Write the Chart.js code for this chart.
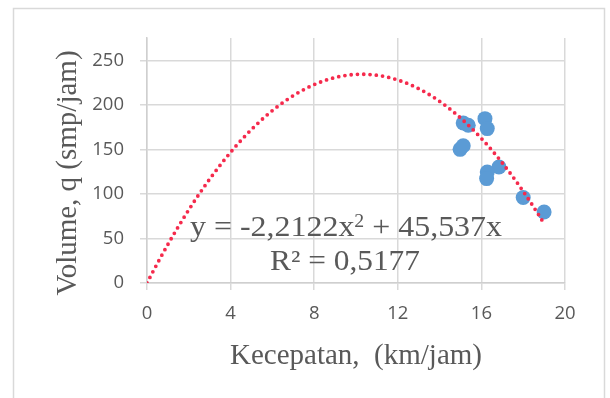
<!DOCTYPE html>
<html>
<head>
<meta charset="utf-8">
<script src="https://cdn.jsdelivr.net/npm/chart.js@4.4.1/dist/chart.umd.min.js"></script>
<style>
  html, body { margin: 0; padding: 0; background: #fff; }
  #wrap { width: 610px; height: 398px; }
</style>
</head>
<body>
<div id="wrap"><canvas id="chart" width="610" height="398"></canvas></div>
<script>
// observed points: speed (km/jam) and volume (smp/jam)
const speeds  = [15.13, 15.37, 16.17, 16.28, 14.98, 15.13, 16.84, 16.28, 16.25, 18.0, 19.0];
const volumes = [179.6, 177.0, 184.5, 173.3, 150.0, 154.0, 130.2, 124.6, 117.2, 95.9, 79.7];

// polynomial trendline shown on the chart: y = a*x^2 + b*x
const trendCoef = [-2.2122, 45.537];
const trendRange = [0, 19];
const trendLabel = ["y = -2,2122x", "2", " + 45,537x"];
const r2Label = "R² = 0,5177";

const xTicks = [0, 4, 8, 12, 16, 20];
const yTicks = [0, 50, 100, 150, 200, 250];

const xTitle = "Kecepatan,  (km/jam)";
const yTitle = "Volume, q (smp/jam)";

const trendPoints = [];
for (let x = trendRange[0]; x <= trendRange[1] + 1e-9; x += 0.25) {
    trendPoints.push({ x: x, y: trendCoef[0] * x * x + trendCoef[1] * x });
}
const scatterPoints = speeds.map((s, i) => ({ x: s, y: volumes[i] }));

const gridColor = '#d9d9d9';
const textGray = '#595959';

// frame around the whole figure + titles + equation
const decorations = {
    id: 'decorations',
    beforeDraw(chart) {
        const ctx = chart.ctx;
        ctx.save();
        ctx.fillStyle = '#fff';
        ctx.fillRect(0, 0, chart.width, chart.height);
        ctx.strokeStyle = gridColor;
        ctx.lineWidth = 1.5;
        ctx.strokeRect(13.5, 8.5, 591, 420);
        ctx.restore();
    },
    afterDraw(chart) {
        const ctx = chart.ctx;
        const area = chart.chartArea;
        ctx.save();
        ctx.fillStyle = textGray;
        ctx.textBaseline = 'alphabetic';

        // x axis title
        ctx.font = '29px "Liberation Serif"';
        ctx.textAlign = 'center';
        ctx.fillText(xTitle, (area.left + area.right) / 2, 364);

        // y axis title
        ctx.save();
        ctx.translate(76, 173);
        ctx.rotate(-Math.PI / 2);
        ctx.fillText(yTitle, 0, 0);
        ctx.restore();

        // equation, line 1 with superscript
        ctx.textAlign = 'left';
        const big = '29px "Liberation Serif"';
        const small = '18px "Liberation Serif"';
        ctx.font = big;
        const w1 = ctx.measureText(trendLabel[0]).width;
        const w3 = ctx.measureText(trendLabel[2]).width;
        ctx.font = small;
        const w2 = ctx.measureText(trendLabel[1]).width;
        const sx = 312 / (w1 + w2 + w3);
        ctx.save();
        ctx.translate(190, 0);
        ctx.scale(sx, 1);
        ctx.font = big;
        ctx.fillText(trendLabel[0], 0, 236);
        ctx.font = small;
        ctx.fillText(trendLabel[1], w1, 227);
        ctx.font = big;
        ctx.fillText(trendLabel[2], w1 + w2, 236);
        ctx.restore();

        // equation, line 2
        ctx.font = big;
        const wr = ctx.measureText(r2Label).width;
        ctx.save();
        ctx.translate(270, 0);
        ctx.scale(150 / wr, 1);
        ctx.fillText(r2Label, 0, 270);
        ctx.restore();

        ctx.restore();
    }
};

const ctx = document.getElementById('chart');
new Chart(ctx, {
    type: 'scatter',
    data: {
        datasets: [
            {
                type: 'line',
                label: 'trend',
                data: trendPoints,
                borderColor: '#f52a4c',
                borderWidth: 3.8,
                borderDash: [0, 6.3],
                borderCapStyle: 'round',
                pointRadius: 0,
                fill: false,
                tension: 0,
                order: 0
            },
            {
                label: 'data',
                data: scatterPoints,
                backgroundColor: '#5b9bd5',
                borderColor: '#5b9bd5',
                borderWidth: 0,
                pointRadius: 7.5,
                order: 1
            }
        ]
    },
    options: {
        responsive: false,
        animation: false,
        layout: { padding: { left: 0, top: 38, right: 45, bottom: 0 } },
        plugins: {
            legend: { display: false },
            tooltip: { enabled: false }
        },
        scales: {
            x: {
                type: 'linear',
                min: 0,
                max: 20,
                afterFit: (scale) => { scale.height = 115; },
                afterBuildTicks: (scale) => { scale.ticks = xTicks.map(v => ({ value: v })); },
                grid: { color: gridColor, lineWidth: 1.5, tickLength: 7 },
                border: { color: '#cfcfcf', width: 1.5 },
                ticks: {
                    color: textGray,
                    font: { family: 'Open Sans', size: 18.5 },
                    padding: 13,
                    maxRotation: 0
                }
            },
            y: {
                type: 'linear',
                min: 0,
                max: 275,
                afterFit: (scale) => { scale.width = 147; },
                afterBuildTicks: (scale) => { scale.ticks = yTicks.map(v => ({ value: v })); },
                grid: { color: gridColor, lineWidth: 1.5, tickLength: 7 },
                border: { color: '#cfcfcf', width: 1.5 },
                ticks: {
                    color: textGray,
                    font: { family: 'Open Sans', size: 18.5 },
                    padding: 16
                }
            }
        }
    },
    plugins: [decorations]
});
</script>
</body>
</html>
